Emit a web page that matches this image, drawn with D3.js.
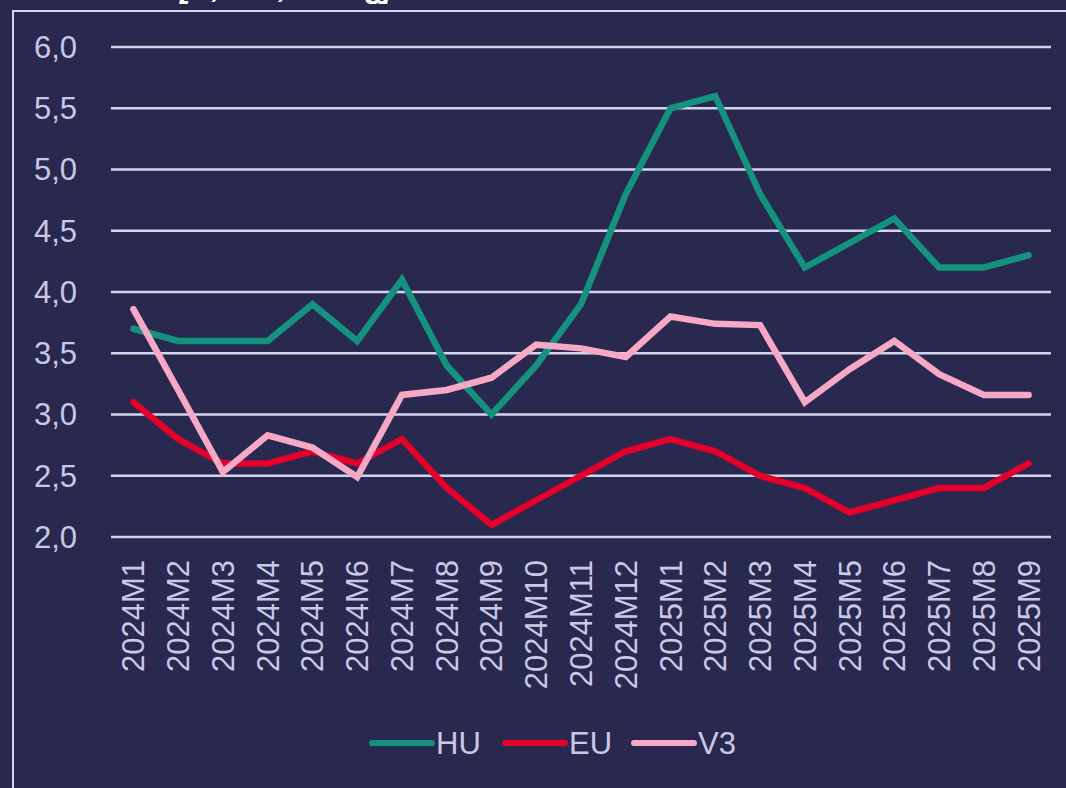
<!DOCTYPE html>
<html>
<head>
<meta charset="utf-8">
<script src="https://d3js.org/d3.v7.min.js"></script>
<style>
  html, body { margin: 0; padding: 0; background: #29284f; }
  svg { display: block; }
</style>
</head>
<body>
<svg width="1066" height="788"></svg>
<script>
// months on the x axis
var months = ["2024M1","2024M2","2024M3","2024M4","2024M5","2024M6","2024M7","2024M8","2024M9","2024M10","2024M11","2024M12",
              "2025M1","2025M2","2025M3","2025M4","2025M5","2025M6","2025M7","2025M8","2025M9"];
var hu = [3.7,3.6,3.6,3.6,3.9,3.6,4.1,3.4,3.0,3.4,3.9,4.8,5.5,5.6,4.8,4.2,4.4,4.6,4.2,4.2,4.3];
var eu = [3.1,2.8,2.6,2.6,2.7,2.6,2.8,2.4,2.1,2.3,2.5,2.7,2.8,2.7,2.5,2.4,2.2,2.3,2.4,2.4,2.6];
var v3 = [3.86,3.2,2.53,2.83,2.73,2.49,3.16,3.2,3.3,3.57,3.54,3.47,3.8,3.74,3.73,3.1,3.37,3.6,3.33,3.16,3.16];
var yTicks = [2.0,2.5,3.0,3.5,4.0,4.5,5.0,5.5,6.0];
var seriesNames = ["HU","EU","V3"];
var seriesColors = ["#14917f","#e4002b","#f5a9c4"];

var svg = d3.select("svg");
var font = "'Liberation Sans', Arial, sans-serif";
var labelColor = "#c9c8e6";

var x = d3.scalePoint().domain(months).range([111,1051]).padding(0.5);
var y = d3.scaleLinear().domain([2,6]).range([537,47]);

// frame
svg.append("path")
    .attr("d","M13,788 L13,11 L1066,11")
    .attr("fill","none")
    .attr("stroke","#d6d5ee")
    .attr("stroke-width",2);

// title, mostly outside the picture
svg.append("text")
    .attr("x",180).attr("y",-3)
    .attr("textLength",212)
    .attr("font-family",font)
    .attr("font-weight","bold")
    .attr("font-style","italic")
    .attr("font-size",32)
    .attr("fill","#ffffff")
    .text("[%, éves, V3 átlag]");

// gridlines
svg.append("g").selectAll("line")
    .data(yTicks).enter().append("line")
    .attr("x1",111).attr("x2",1051)
    .attr("y1",function(d){return y(d)})
    .attr("y2",function(d){return y(d)})
    .attr("stroke","#d4d3ec")
    .attr("stroke-width",2.5);

// y labels
svg.append("g").selectAll("text")
    .data(yTicks).enter().append("text")
    .attr("x",77)
    .attr("y",function(d){return y(d)})
    .attr("dy","0.35em")
    .attr("text-anchor","end")
    .attr("font-family",font)
    .attr("font-size",31)
    .attr("fill",labelColor)
    .text(function(d){return d.toFixed(1).replace(".",",")});

// x labels, rotated
svg.append("g").selectAll("text")
    .data(months).enter().append("text")
    .attr("transform",function(d){return "translate("+(x(d)+11)+",560) rotate(-90)"})
    .attr("text-anchor","end")
    .attr("font-family",font)
    .attr("font-size",31)
    .attr("fill",labelColor)
    .text(function(d){return d});

// lines
var line = d3.line()
    .x(function(d,i){return x(months[i])})
    .y(function(d){return y(d)});
[hu,eu,v3].forEach(function(s,k){
    svg.append("path")
        .datum(s)
        .attr("d",line)
        .attr("fill","none")
        .attr("stroke",seriesColors[k])
        .attr("stroke-width",6.5)
        .attr("stroke-linecap","round")
        .attr("stroke-linejoin","miter");
});

// legend
var legendX = [372,505,634];
var lg = svg.append("g").selectAll("g")
    .data(seriesNames).enter().append("g")
    .attr("transform",function(d,i){return "translate("+legendX[i]+",743)"});
lg.append("line")
    .attr("x1",0).attr("x2",60)
    .attr("stroke",function(d,i){return seriesColors[i]})
    .attr("stroke-width",6)
    .attr("stroke-linecap","round");
lg.append("text")
    .attr("x",64).attr("dy","0.35em")
    .attr("font-family",font)
    .attr("font-size",31)
    .attr("fill",labelColor)
    .text(function(d){return d});
</script>
</body>
</html>
